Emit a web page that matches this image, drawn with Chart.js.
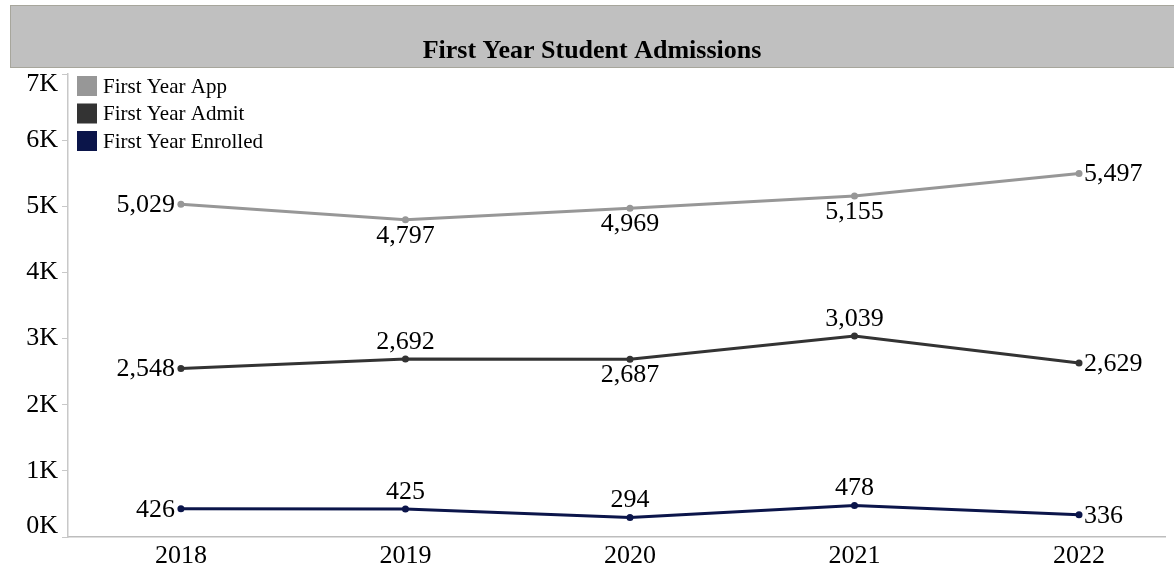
<!DOCTYPE html>
<html>
<head>
<meta charset="utf-8">
<script src="https://cdn.jsdelivr.net/npm/chart.js@4"></script>
<style>
  html, body { margin: 0; padding: 0; background: #fff; }
  #wrap { width: 1174px; height: 571px; }
</style>
</head>
<body>
<div id="wrap"><canvas id="admChart" width="1174" height="571"></canvas></div>
<script>
// data
let years = [2018, 2019, 2020, 2021, 2022];
let appValues = [5029, 4797, 4969, 5155, 5497];
let admitValues = [2548, 2692, 2687, 3039, 2629];
let enrolledValues = [426, 425, 294, 478, 336];
let yTicks = [0, 1000, 2000, 3000, 4000, 5000, 6000, 7000];

let serif = '"Liberation Serif", "DejaVu Serif", serif';

function toPoints(vals) {
    return vals.map(function (v, i) { return { x: years[i], y: v }; });
}

// gray title banner
const bannerPlugin = {
    id: 'banner',
    beforeDraw(chart) {
        const ctx = chart.ctx;
        ctx.save();
        ctx.fillStyle = '#c0c0c0';
        ctx.fillRect(10, 5, 1170, 63);
        ctx.strokeStyle = '#a7a69c';
        ctx.lineWidth = 1;
        ctx.strokeRect(10.5, 5.5, 1170, 62);
        ctx.fillStyle = '#000';
        ctx.font = 'bold 26px ' + serif;
        ctx.textAlign = 'center';
        ctx.textBaseline = 'alphabetic';
        ctx.fillText('First Year Student Admissions', 592, 58);
        ctx.restore();
    }
};

// legend in the top left corner of the plot
const cornerLegend = {
    id: 'cornerLegend',
    afterDraw(chart) {
        const ctx = chart.ctx;
        ctx.save();
        ctx.font = '21px ' + serif;
        ctx.textBaseline = 'middle';
        ctx.textAlign = 'left';
        chart.data.datasets.forEach(function (ds, i) {
            let cy = 86 + i * 27.5;
            ctx.fillStyle = ds.borderColor;
            ctx.fillRect(77, cy - 10, 20, 20);
            ctx.fillStyle = '#000';
            ctx.fillText(ds.label, 103, cy + 1);
        });
        ctx.restore();
    }
};

// value labels next to each point
const valueLabels = {
    id: 'valueLabels',
    afterDatasetsDraw(chart) {
        const ctx = chart.ctx;
        ctx.save();
        ctx.font = '26px ' + serif;
        ctx.fillStyle = '#000';
        chart.data.datasets.forEach(function (ds, di) {
            let meta = chart.getDatasetMeta(di);
            meta.data.forEach(function (pt, i) {
                let txt = ds.data[i].y.toLocaleString('en-US');
                let pos = ds.labelPos[i];
                if (pos === 'left') {
                    ctx.textAlign = 'right'; ctx.textBaseline = 'middle';
                    ctx.fillText(txt, pt.x - 6, pt.y + 1);
                } else if (pos === 'right') {
                    ctx.textAlign = 'left'; ctx.textBaseline = 'middle';
                    ctx.fillText(txt, pt.x + 5, pt.y + 1);
                } else if (pos === 'above') {
                    ctx.textAlign = 'center'; ctx.textBaseline = 'bottom';
                    ctx.fillText(txt, pt.x, pt.y - 4);
                } else {
                    ctx.textAlign = 'center'; ctx.textBaseline = 'top';
                    ctx.fillText(txt, pt.x, pt.y + 3);
                }
            });
        });
        ctx.restore();
    }
};

let admChart = new Chart(document.getElementById('admChart'), {
    type: 'line',
    data: {
        datasets: [
            {
                label: 'First Year App',
                data: toPoints(appValues),
                borderColor: '#979797',
                backgroundColor: '#979797',
                labelPos: ['left', 'below', 'below', 'below', 'right']
            },
            {
                label: 'First Year Admit',
                data: toPoints(admitValues),
                borderColor: '#333333',
                backgroundColor: '#333333',
                labelPos: ['left', 'above', 'below', 'above', 'right']
            },
            {
                label: 'First Year Enrolled',
                data: toPoints(enrolledValues),
                borderColor: '#0b154a',
                backgroundColor: '#0b154a',
                labelPos: ['left', 'above', 'above', 'above', 'right']
            }
        ]
    },
    options: {
        responsive: false,
        animation: false,
        layout: { padding: { top: 74, right: 9, left: 0, bottom: 0 } },
        elements: {
            line: { borderWidth: 3, tension: 0 },
            point: { radius: 3.5, borderWidth: 0, hoverRadius: 3.5 }
        },
        plugins: {
            legend: { display: false },
            tooltip: { enabled: false }
        },
        scales: {
            x: {
                type: 'linear',
                min: 2017.497,
                max: 2022.383,
                afterBuildTicks: function (s) {
                    s.ticks = years.map(function (y) { return { value: y }; });
                },
                afterFit: function (s) { s.height = 34; },
                grid: { display: false },
                border: { color: '#bdbdbd', width: 1.5, dash: [2, 1] },
                ticks: {
                    color: '#000',
                    font: { family: serif, size: 26 },
                    padding: -4,
                    maxRotation: 0,
                    callback: function (v) { return String(v); }
                }
            },
            y: {
                min: 0,
                max: 7000,
                afterBuildTicks: function (s) {
                    s.ticks = yTicks.map(function (v) { return { value: v }; });
                },
                afterFit: function (s) { s.width = 68; },
                grid: {
                    drawOnChartArea: false,
                    drawTicks: true,
                    tickLength: 6,
                    color: '#c8c8c8'
                },
                border: { color: '#c8c8c8', width: 1.5 },
                ticks: {
                    color: '#000',
                    font: { family: serif, size: 26, lineHeight: 0.8 },
                    padding: 4,
                    callback: function (v) {
                        let t = (v / 1000) + 'K';
                        if (v === 0) return [t, ''];
                        if (v === 7000) return ['', t];
                        return t;
                    }
                }
            }
        }
    },
    plugins: [bannerPlugin, cornerLegend, valueLabels]
});
</script>
</body>
</html>
